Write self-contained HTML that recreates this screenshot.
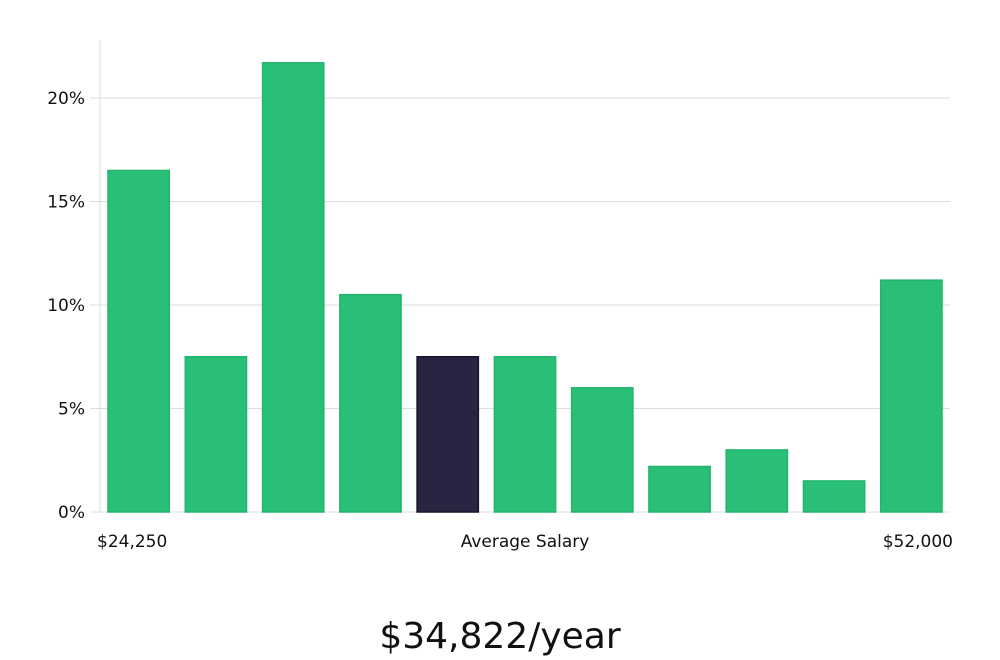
<!DOCTYPE html>
<html><head><meta charset="utf-8"><style>
body{margin:0;background:#fff;}
svg{display:block;font-family:"DejaVu Sans","Liberation Sans",sans-serif;}
</style></head><body>
<svg id="chart" width="1000" height="660">
<g id="grid"></g><g id="bars"></g><g id="labels"></g>
<text x="500" y="648" text-anchor="middle" font-size="36" fill="#111">$34,822/year</text>
</svg>
<script>
const categories=["b1","b2","b3","b4","b5","b6","b7","b8","b9","b10","b11"];
const values=[16.5,7.5,21.7,10.5,7.5,7.5,6.0,2.2,3.0,1.5,11.2];
const highlight=[false,false,false,false,true,false,false,false,false,false,false];
const yTicks=[0,5,10,15,20];
const xLabels=["$24,250","Average Salary","$52,000"];
const NS="http://www.w3.org/2000/svg";
const x0=100,x1=950,yBase=512,pxPerUnit=(512-98)/20;
const y=v=>yBase-v*pxPerUnit;
const slot=(x1-x0)/categories.length;
function mk(tag,attrs,parent){const e=document.createElementNS(NS,tag);for(const k in attrs)e.setAttribute(k,attrs[k]);parent.appendChild(e);return e;}
const grid=document.getElementById('grid'),bars=document.getElementById('bars'),labels=document.getElementById('labels');
const ax=mk('line',{x1:x0,x2:x0,y1:40,y2:yBase,stroke:'#ddd'},grid);


yTicks.forEach(t=>{
  const l=mk('line',{x1:x0-10,x2:x1,y1:y(t),y2:y(t),stroke:'#dcdcdc'},grid);
  
  
  const tx=mk('text',{x:85,y:y(t)+6,'text-anchor':'end','font-size':17,fill:'#111'},labels);
  tx.textContent=t+'%';
  
  
});
values.forEach((v,i)=>{
  const bx=x0+i*slot+8;
  const r=mk('rect',{x:bx,y:y(v),width:slot-16,height:yBase-y(v),fill:highlight[i]?'#272541':'#2abf77',stroke:highlight[i]?'#15142a':'#22b56c','stroke-width':1.5},bars);
  
  
});
const pos=[[97,'start'],[525,'middle'],[953,'end']];
xLabels.forEach((s,i)=>{
  const t=mk('text',{x:pos[i][0],y:547,'text-anchor':pos[i][1],'font-size':17,fill:'#111'},labels);
  t.textContent=s;
  
  
});
</script>
</body></html>
